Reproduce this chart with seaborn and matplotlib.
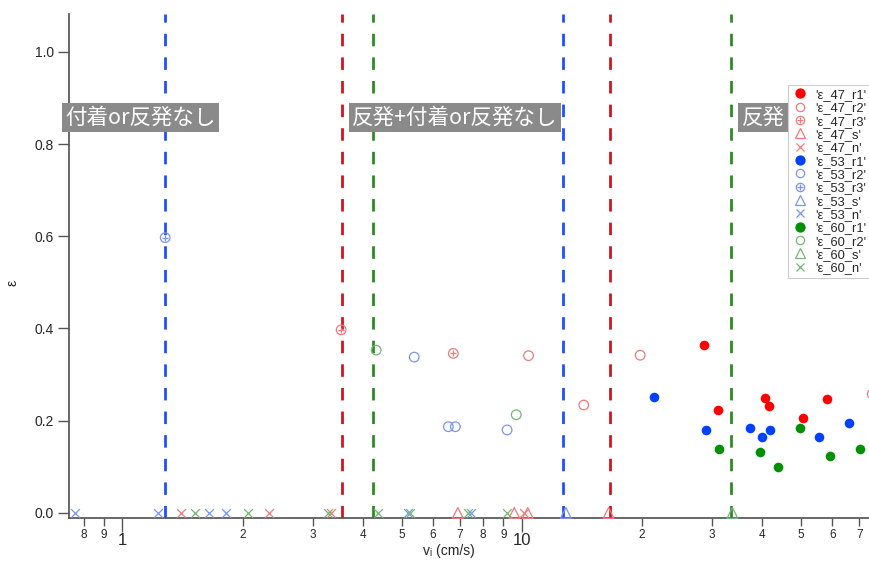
"""
Restitution coefficient vs impact velocity (log x), three diameters.
"""

import numpy as np
import matplotlib
matplotlib.use('Agg')
import matplotlib.pyplot as plt
from matplotlib.lines import Line2D
from matplotlib.legend_handler import HandlerTuple
from matplotlib.ticker import FixedLocator, FuncFormatter
import seaborn as sns

# ---- data ----
# filled circles: r1
x_47_r1 = [28.6, 31.0, 40.7, 41.5, 50.5, 58.0]
y_47_r1 = [0.364, 0.223, 0.250, 0.231, 0.205, 0.247]
x_53_r1 = [21.5, 28.9, 37.4, 40.0, 41.8, 55.6, 66.0]
y_53_r1 = [0.251, 0.180, 0.184, 0.165, 0.180, 0.165, 0.195]
x_60_r1 = [31.2, 39.5, 43.8, 49.7, 59.1, 70.4]
y_60_r1 = [0.139, 0.133, 0.100, 0.185, 0.124, 0.138]

# open circles: r2
x_47_r2 = [10.4, 14.3, 19.8, 75.5]
y_47_r2 = [0.341, 0.234, 0.342, 0.258]
x_53_r2 = [5.38, 6.55, 6.82, 9.19]
y_53_r2 = [0.338, 0.187, 0.187, 0.180]
x_60_r2 = [4.32, 9.69]
y_60_r2 = [0.353, 0.213]

# circled plus: r3
x_47_r3 = [3.53, 6.74]
y_47_r3 = [0.397, 0.346]
x_53_r3 = [1.28]
y_53_r3 = [0.597]

# triangles: s
x_47_s = [6.92, 9.58, 10.35, 16.5]
y_47_s = [0.0, 0.0, 0.0, 0.0]
x_53_s = [12.9]
y_53_s = [0.0]
x_60_s = [33.7]
y_60_s = [0.0]

# crosses: n
x_47_n = [1.40, 2.33, 3.33, 10.15]
y_47_n = [0.0, 0.0, 0.0, 0.0]
x_53_n = [0.761, 1.23, 1.65, 1.82, 5.20, 7.45]
y_53_n = [0.0, 0.0, 0.0, 0.0, 0.0, 0.0]
x_60_n = [1.52, 2.06, 3.27, 4.36, 5.24, 7.34, 9.21]
y_60_n = [0.0, 0.0, 0.0, 0.0, 0.0, 0.0, 0.0]

# regime boundaries (vertical dashed lines)
boundary_x = [1.28, 3.55, 4.24, 12.7, 16.6, 33.4]
boundary_c = ['#1f4fff', '#d4141c', '#2e8b22', '#1f4fff', '#d4141c', '#2e8b22']

# region labels
region_text = ['付着or反発なし', '反発+付着or反発なし', '反発']
region_x = [0.72, 3.76, 35.6]
region_y = [0.857, 0.857, 0.857]

# ---- style ----
RED, BLUE, GREEN = '#ff0000', '#0040ff', '#009000'
RED_L, BLUE_L, GREEN_L = '#f07a7a', '#7a95f2', '#72b872'

sns.set_theme(style='ticks')
plt.rcParams['font.family'] = ['Liberation Sans', 'Noto Sans CJK JP', 'DejaVu Sans']
plt.rcParams['axes.edgecolor'] = '#555555'

fig = plt.figure(figsize=(8.7, 5.62), dpi=100)
ax = fig.add_axes([69 / 870, 44 / 562, 801 / 870, 504 / 562])

for bx, bc in zip(boundary_x, boundary_c):
    ax.axvline(bx, color=bc, lw=2.0, dashes=(4.5, 4.0), zorder=1)

# filled
for xs, ys, c in [(x_47_r1, y_47_r1, RED), (x_53_r1, y_53_r1, BLUE), (x_60_r1, y_60_r1, GREEN)]:
    sns.scatterplot(x=xs, y=ys, ax=ax, marker='o', s=48, color=c, edgecolor=c,
                    linewidth=0, zorder=3)
# open circles (r2 + r3 base)
for xs, ys, c in [(x_47_r2, y_47_r2, RED_L), (x_53_r2, y_53_r2, BLUE_L), (x_60_r2, y_60_r2, GREEN_L),
                  (x_47_r3, y_47_r3, RED_L), (x_53_r3, y_53_r3, BLUE_L)]:
    sns.scatterplot(x=xs, y=ys, ax=ax, marker='o', s=48, color=c, facecolor='none',
                    edgecolor=c, linewidth=0.9, zorder=3, clip_on=True)
# plus inside r3
for xs, ys, c in [(x_47_r3, y_47_r3, RED_L), (x_53_r3, y_53_r3, BLUE_L)]:
    sns.scatterplot(x=xs, y=ys, ax=ax, marker='+', s=16, color=c, linewidth=0.9, zorder=3)
# triangles
for xs, ys, c in [(x_47_s, y_47_s, RED_L), (x_53_s, y_53_s, BLUE_L), (x_60_s, y_60_s, GREEN_L)]:
    sns.scatterplot(x=xs, y=ys, ax=ax, marker='^', s=60, color=c, facecolor='none',
                    edgecolor=c, linewidth=0.9, zorder=3, clip_on=False)
# crosses
for xs, ys, c in [(x_47_n, y_47_n, RED_L), (x_53_n, y_53_n, BLUE_L), (x_60_n, y_60_n, GREEN_L)]:
    sns.scatterplot(x=xs, y=ys, ax=ax, marker='x', s=40, color=c, linewidth=0.9,
                    zorder=3, clip_on=False)

for t, tx, ty in zip(region_text, region_x, region_y):
    ax.text(tx, ty, t, color='white', fontsize=15.5, va='center', ha='left',
            family=['Noto Sans CJK JP', 'DejaVu Sans'], zorder=4, clip_on=False,
            bbox=dict(facecolor='#8a8a8a', edgecolor='none', pad=2.5))

ax.set_xscale('log')
ax.set_xlim(0.735, 74.5)
ax.set_ylim(-0.011, 1.082)
sns.despine(ax=ax)

# y axis
ax.set_yticks(np.arange(0, 1.01, 0.2))
ax.yaxis.set_major_formatter(FuncFormatter(lambda v, p: f'{v:.1f}'))
ax.tick_params(axis='y', length=8, width=1, color='#555555', labelsize=10, pad=3)

# x axis: decades labelled full, minor ticks labelled by leading digit
ax.xaxis.set_major_locator(FixedLocator([1, 10]))
ax.xaxis.set_major_formatter(FuncFormatter(lambda v, p: f'{v:g}'))
minor = [m * 10.0 ** e for e in (-1, 0, 1) for m in range(2, 10)]
ax.xaxis.set_minor_locator(FixedLocator(minor))
ax.xaxis.set_minor_formatter(FuncFormatter(lambda v, p: f'{int(round(v / 10 ** np.floor(np.log10(v))))}'))
ax.tick_params(axis='x', which='major', length=10, width=1, color='#555555', labelsize=12, pad=1)
ax.tick_params(axis='x', which='minor', length=6, width=1, color='#555555', labelsize=8.5, pad=2)

ax.set_xlabel('vᵢ (cm/s)', fontsize=10)
ax.xaxis.set_label_coords(0.474, -0.052)
ax.set_ylabel('ε', fontsize=10)
ax.yaxis.set_label_coords(-0.062, 0.466)

# legend
def h(marker, c, fill=True, ms=6):
    return Line2D([], [], ls='none', marker=marker, markersize=ms, color=c,
                  markerfacecolor=c if fill else 'none', markeredgecolor=c, markeredgewidth=0.9)

handles, labels = [], []
for d, cf, cl, has_r3 in [('47', RED, RED_L, True), ('53', BLUE, BLUE_L, True), ('60', GREEN, GREEN_L, False)]:
    handles.append(h('o', cf, True, 6.5)); labels.append(f"'ε_{d}_r1'")
    handles.append(h('o', cl, False)); labels.append(f"'ε_{d}_r2'")
    if has_r3:
        handles.append((h('o', cl, False), h('+', cl, True, 4))); labels.append(f"'ε_{d}_r3'")
    handles.append(h('^', cl, False, 7)); labels.append(f"'ε_{d}_s'")
    handles.append(h('x', cl, False, 6)); labels.append(f"'ε_{d}_n'")

leg = ax.legend(handles, labels, loc='upper left', bbox_to_anchor=(0.8975, 0.859),
                fontsize=9.3, frameon=True, fancybox=False, edgecolor='#cccccc',
                framealpha=1, borderpad=0.3, labelspacing=0.1, handlelength=1.2,
                handletextpad=0.6, borderaxespad=0,
                handler_map={tuple: HandlerTuple(ndivide=1, pad=0)})
leg.get_frame().set_linewidth(0.8)
leg.set_zorder(10)

fig.savefig('out.png', dpi=100)
plt.close(fig)
